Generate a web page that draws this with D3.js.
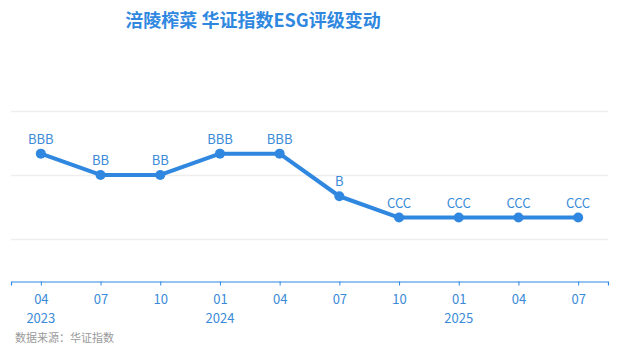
<!DOCTYPE html>
<html><head><meta charset="utf-8">
<script src="https://cdn.jsdelivr.net/npm/d3@7"></script>
<style>body{margin:0;background:#fff;}svg{display:block;font-family:"Microsoft YaHei","Noto Sans CJK SC",sans-serif;}</style>
</head><body>
<svg id="c" width="618" height="355"></svg>
<script>
const months = ["04","07","10","01","04","07","10","01","04","07"];
const years = ["2023","","","2024","","","","2025","",""];
const ratings = ["BBB","BB","BB","BBB","BBB","B","CCC","CCC","CCC","CCC"];
const ratingScale = ["CCC","B","BB","BBB","A","AA","AAA"];
const gridValues = [0,3,6];
const title = "涪陵榨菜 华证指数ESG评级变动";
const source = "数据来源：华证指数";

const svg = d3.select("#c");
const blue = "#2f87e0", textBlue = "#3a8ad8";
const idx = months.map((m,i)=>i);
const x = d3.scalePoint().domain(idx).range([11,608]).padding(0.5);
const y = d3.scaleLinear().domain([-2,6]).range([281.5,111]);
const val = r => ratingScale.indexOf(r)+1;

svg.append("text").attr("x",253).attr("y",27).attr("text-anchor","middle")
  .attr("font-size",18).attr("font-weight","bold").attr("fill",blue).text(title);

svg.append("g").selectAll("line").data(gridValues).join("line")
  .attr("x1",11).attr("x2",608).attr("y1",d=>Math.round(y(d))+0.5).attr("y2",d=>Math.round(y(d))+0.5)
  .attr("stroke","#eeeeee").attr("stroke-width",1.5);

const ax = svg.append("g").attr("transform",`translate(0,${y(-2)})`)
  .call(d3.axisBottom(x).tickSize(4).tickFormat(i=>months[i]));
ax.select(".domain").attr("stroke",blue).attr("stroke-width",1.2);
ax.selectAll(".tick line").attr("stroke",blue);
ax.selectAll(".tick text").attr("fill",textBlue).attr("font-size",13).attr("dy","1.2em")
  .attr("font-family","'Microsoft YaHei','Noto Sans CJK SC',sans-serif");
svg.append("g").selectAll("text").data(idx.filter(i=>years[i])).join("text")
  .attr("x",i=>x(i)).attr("y",323).attr("text-anchor","middle")
  .attr("font-size",13).attr("fill",textBlue).text(i=>years[i]);

svg.append("path").datum(idx).attr("fill","none").attr("stroke",blue).attr("stroke-width",4)
  .attr("stroke-linejoin","round")
  .attr("d",d3.line().x(i=>x(i)).y(i=>y(val(ratings[i]))));
svg.append("g").selectAll("circle").data(idx).join("circle")
  .attr("cx",i=>x(i)).attr("cy",i=>y(val(ratings[i]))).attr("r",5).attr("fill",blue);
svg.append("g").selectAll("text").data(idx).join("text")
  .attr("x",i=>x(i)).attr("y",i=>y(val(ratings[i]))-10).attr("text-anchor","middle")
  .attr("font-size",13).attr("fill",textBlue).text(i=>ratings[i]);

svg.append("text").attr("x",15).attr("y",342).attr("font-size",11).attr("fill","#9a9a9a").text(source);
</script>
</body></html>
